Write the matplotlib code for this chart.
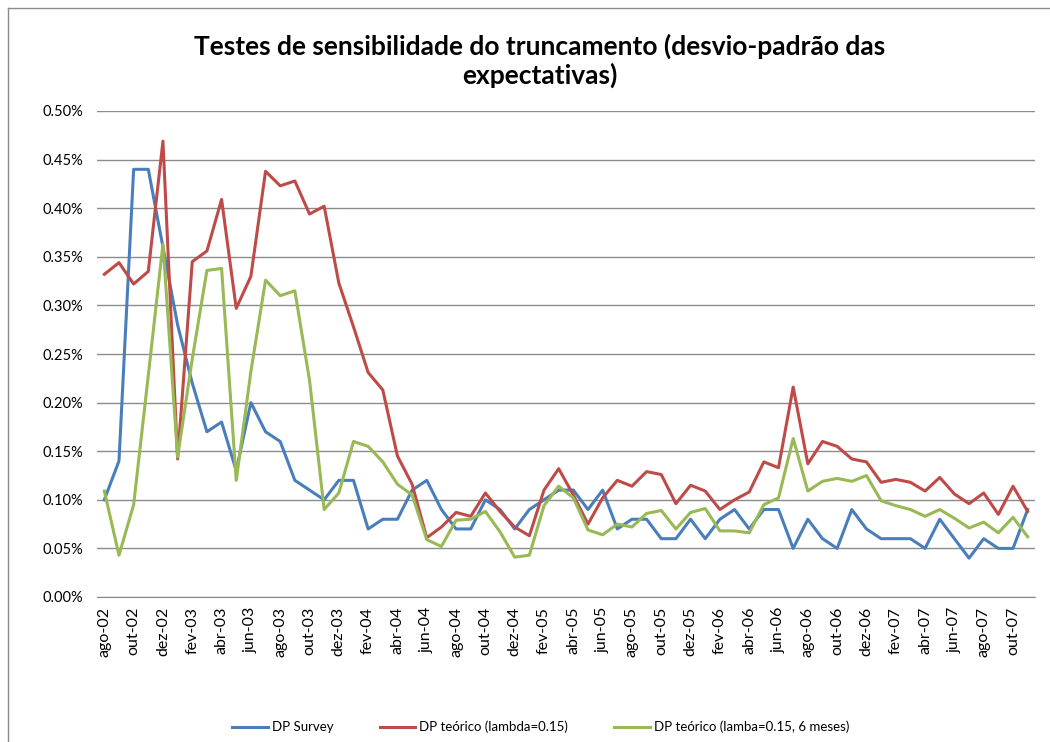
import matplotlib
matplotlib.use("Agg")
import matplotlib.pyplot as plt
from matplotlib.lines import Line2D

plt.rcParams["font.family"] = ["Lato", "DejaVu Sans"]

# monthly series, ago-02 .. nov-07 (values in %)
month_names = ["jan", "fev", "mar", "abr", "mai", "jun",
               "jul", "ago", "set", "out", "nov", "dez"]
start_month, start_year, n_months = 7, 2002, 64

dp_survey = [0.10, 0.14, 0.44, 0.44, 0.36, 0.28, 0.22, 0.17, 0.18, 0.13,
             0.20, 0.17, 0.16, 0.12, 0.11, 0.10, 0.12, 0.12, 0.07, 0.08,
             0.08, 0.11, 0.12, 0.09, 0.07, 0.07, 0.10, 0.09, 0.07, 0.09,
             0.10, 0.11, 0.11, 0.09, 0.11, 0.07, 0.08, 0.08, 0.06, 0.06,
             0.08, 0.06, 0.08, 0.09, 0.07, 0.09, 0.09, 0.05, 0.08, 0.06,
             0.05, 0.09, 0.07, 0.06, 0.06, 0.06, 0.05, 0.08, 0.06, 0.04,
             0.06, 0.05, 0.05, 0.09]

dp_teorico = [0.332, 0.344, 0.322, 0.335, 0.469, 0.142, 0.345, 0.356, 0.409, 0.297,
              0.330, 0.438, 0.423, 0.428, 0.394, 0.402, 0.323, 0.278, 0.231, 0.213,
              0.145, 0.116, 0.061, 0.072, 0.087, 0.083, 0.107, 0.088, 0.072, 0.063,
              0.110, 0.132, 0.105, 0.075, 0.102, 0.120, 0.114, 0.129, 0.126, 0.096,
              0.115, 0.109, 0.090, 0.100, 0.108, 0.139, 0.133, 0.216, 0.137, 0.160,
              0.155, 0.142, 0.139, 0.118, 0.121, 0.118, 0.109, 0.123, 0.106, 0.096,
              0.107, 0.085, 0.114, 0.088]

dp_teorico_6m = [0.109, 0.043, 0.095, 0.228, 0.363, 0.144, 0.245, 0.336, 0.338, 0.120,
                 0.232, 0.326, 0.310, 0.315, 0.223, 0.090, 0.107, 0.160, 0.155, 0.139,
                 0.116, 0.105, 0.059, 0.052, 0.079, 0.080, 0.088, 0.067, 0.041, 0.043,
                 0.094, 0.114, 0.102, 0.069, 0.064, 0.075, 0.072, 0.086, 0.089, 0.070,
                 0.087, 0.091, 0.068, 0.068, 0.066, 0.095, 0.102, 0.163, 0.109, 0.119,
                 0.122, 0.119, 0.125, 0.099, 0.094, 0.090, 0.083, 0.090, 0.081, 0.071,
                 0.077, 0.066, 0.082, 0.062]

labels = []
for k in range(n_months):
    m = (start_month + k) % 12
    y = start_year + (start_month + k) // 12
    labels.append(f"{month_names[m]}-{y % 100:02d}")

x = list(range(n_months))

fig = plt.figure(figsize=(10.5, 7.42), dpi=100)
ax = fig.add_axes((97 / 1050, 1 - 597 / 742, 938 / 1050, 486 / 742))

ax.plot(x, dp_survey, color="#4A7EBB", lw=2.2, label="DP Survey", solid_joinstyle="round")
ax.plot(x, dp_teorico, color="#BE4B48", lw=2.2, label="DP teórico (lambda=0.15)",
        solid_joinstyle="round")
ax.plot(x, dp_teorico_6m, color="#98B954", lw=2.2,
        label="DP teórico (lamba=0.15, 6 meses)", solid_joinstyle="round")

ax.set_xlim(-0.5, n_months - 0.5)
ax.set_ylim(0, 0.5)
yt = [i * 0.05 for i in range(11)]
ax.set_yticks(yt)
ax.set_yticklabels([f"{v:.2f}%" for v in yt], fontsize=10.5)
ax.set_xticks(x[::2])
ax.set_xticklabels(labels[::2], rotation=90, fontsize=11.5)
ax.tick_params(axis="both", length=0, colors="#000000")
ax.tick_params(axis="y", pad=10)
ax.tick_params(axis="x", pad=7)
ax.yaxis.grid(True, color="#8C8C8C", lw=1.0)
ax.set_axisbelow(True)
for s in ["top", "right", "left"]:
    ax.spines[s].set_visible(False)
ax.spines["bottom"].set_color("#8C8C8C")

fig.text(0.514, 0.918, "Testes de sensibilidade do truncamento (desvio-padrão das\nexpectativas)",
         ha="center", va="center", fontsize=19, fontweight="bold", linespacing=1.2)

fig.legend(loc="center", bbox_to_anchor=(0.515, 0.02), ncol=3, frameon=False,
           fontsize=9.5, handlelength=2.7, columnspacing=3.5, handletextpad=0.3)

# chart frame
fig.add_artist(Line2D([7.5 / 1050, 7.5 / 1050], [0, 1 - 8 / 742], color="#8C8C8C", lw=1))
fig.add_artist(Line2D([7.5 / 1050, 1], [1 - 8 / 742, 1 - 8 / 742], color="#8C8C8C", lw=1))

fig.savefig("out.png", dpi=100)
